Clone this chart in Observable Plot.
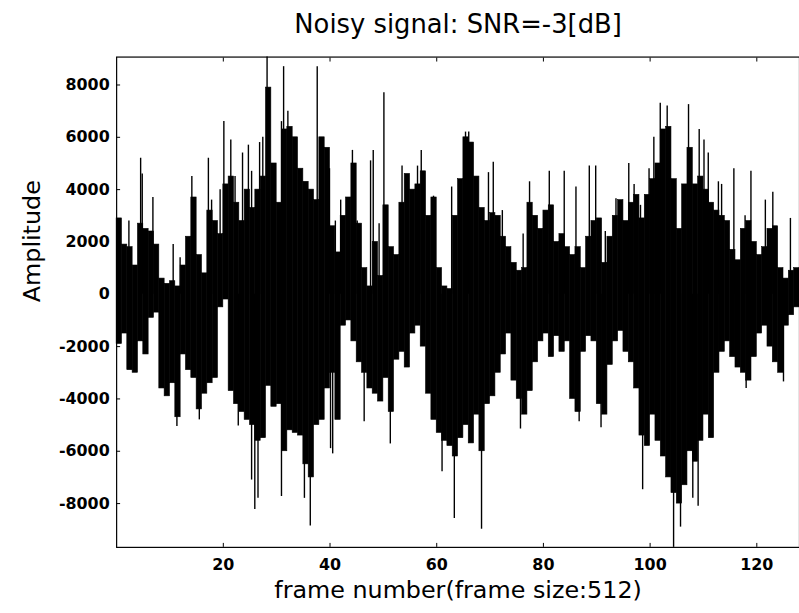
<!DOCTYPE html>
<html><head><meta charset="utf-8">
<script src="https://cdn.jsdelivr.net/npm/d3@7"></script>
<script src="https://cdn.jsdelivr.net/npm/@observablehq/plot@0.6"></script>
<style>html,body{margin:0;padding:0;background:#fff;overflow:hidden;width:799px;height:613px}</style>
</head><body><div id="chart"></div>
<script>
// Per-frame upper / lower envelope of the noisy signal (frames 0..127)
const upper = [2900,1900,1800,1100,2700,2500,2400,1900,600,400,
 500,300,1100,2200,3700,1500,800,3200,2800,2300,
 4200,4500,3500,2800,4000,3300,4000,4500,7900,5000,
 3500,6300,6400,6000,4800,4300,4000,3600,6000,5600,
 2600,1600,3000,3700,5000,2700,1000,300,2000,700,
 3400,1800,1500,3500,4600,4000,4200,4700,3000,3700,
 1000,300,200,3000,4400,6000,5800,4500,3300,2800,
 3100,3000,2200,1800,1200,900,1000,3500,3000,2500,
 3200,3400,2000,2300,1800,1500,1800,1000,2200,2800,
 2900,1200,2200,3000,3600,2800,3500,3800,2900,3800,
 4400,5000,6300,6400,4400,2500,4200,5600,4200,4500,
 4000,3500,3200,3000,2800,1700,1300,2500,2800,2000,
 1500,1800,2500,2600,1000,600,900,1000];
const lower = [-1900,-1500,-2900,-3000,-1800,-2300,-900,-700,-3600,-3900,
 -3400,-4700,-2300,-2900,-3200,-4400,-3800,-3400,-3200,-500,
 -200,-3700,-4200,-4500,-4800,-5000,-5600,-5500,-3500,-4300,
 -4200,-6000,-5200,-5300,-5400,-6500,-7000,-5000,-4800,-3600,
 -3000,-4800,-1200,-1000,-1800,-2600,-3000,-3600,-3800,-4100,
 -3200,-4500,-2500,-2200,-2800,-1500,-1200,-2000,-3800,-4800,
 -5300,-5600,-5800,-6200,-5500,-5000,-5700,-4600,-6000,-4200,
 -3900,-3000,-2300,-1500,-3300,-4000,-4600,-3700,-2600,-1800,
 -1500,-2400,-1600,-2200,-1800,-4000,-4500,-2200,-1600,-1800,
 -4200,-4600,-2700,-1800,-1400,-2200,-2600,-3600,-5400,-5800,
 -4600,-5600,-6200,-7000,-7600,-8000,-7300,-6000,-6400,-5600,
 -4600,-5500,-3000,-2200,-1800,-2400,-2800,-3000,-3300,-2400,
 -1500,-1200,-2000,-2600,-3000,-1200,-800,-500];
// Thin spikes beyond the envelope
const spikeFrames = [2.3,4.5,4.8,6.8,10.6,11.9,14.1,17.2,17.8,19.4,20.1,21.4,22.2,23.6,24.7,25.3,26.8,27.4,28.2,
 30.9,31.3,32.1,37.6,39.9,41.0,42.0,44.2,45.1,47.6,48.1,49.2,50.1,53.5,54.4,56.4,57.1,57.6,59.4,62.8,65.4,66.0,
 69.7,70.6,72.3,76.2,77.4,81.1,83.9,86.1,88.6,89.8,91.6,93.6,96.0,97.0,98.2,99.8,100.7,101.9,103.2,107.2,
 109.2,110.1,110.9,112.8,113.4,115.7,117.8,118.9,121.6,123.0,126.3];
const spikeValues = [2800,5200,4600,3700,1900,1400,4500,5200,3600,4000,6600,5900,4500,5400,5700,4700,5800,6000,9067,
 6600,8700,7000,8700,4800,2800,3600,5500,2800,5100,5500,2700,7700,4900,4300,4900,5500,4600,3750,4100,6200,6200,
 4650,5050,3200,2300,4300,4700,4700,4100,4900,4900,2400,3650,5000,4200,3400,4800,6000,7300,7200,7250,
 6300,5900,5400,4300,4200,4800,3000,4700,3600,3900,2900];
const lowSpikeFrames = [11.3,15.5,22.8,25.3,25.9,26.5,30.9,35.2,36.3,40.1,40.5,46.4,51.3,61.0,63.3,68.4,75.7,
 86.7,90.8,98.6,104.4,105.7,108.0,109.0,118.0,125.0];
const lowSpikeValues = [-5050,-4800,-5030,-7100,-8230,-7800,-7730,-7800,-8860,-5900,-6100,-4870,-5720,-6780,-8570,-8980,-5150,
 -4870,-5100,-7470,-9674,-8900,-7800,-8100,-3600,-3350];
const xTicks = [20,40,60,80,100,120];
const yTicks = [-8000,-6000,-4000,-2000,0,2000,4000,6000,8000];
const titleText = "Noisy signal: SNR=-3[dB]";
const xLabel = "frame number(frame size:512)";
const yLabel = "Amplitude";

const frames = upper.map((u, i) => ({f: i, hi: u, lo: lower[i]}));
const spikes = spikeFrames.map((f, i) => ({f, v: spikeValues[i]}))
  .concat(lowSpikeFrames.map((f, i) => ({f, v: lowSpikeValues[i]})));

const font = "DejaVu Sans";
const chart = Plot.plot({
  width: 805, height: 613,
  marginLeft: 117, marginRight: 0, marginTop: 57, marginBottom: 62,
  style: {fontFamily: font, background: "white", color: "black"},
  x: {domain: [0, 128]},
  y: {domain: [-9674, 9067]},
  marks: [
    Plot.rect(frames, {x1: "f", x2: d => d.f + 1, y1: "lo", y2: "hi", fill: "black", stroke: "black", strokeWidth: 0.6}),
    Plot.ruleX(spikes, {x: "f", y1: 0, y2: "v", stroke: "black", strokeWidth: 1.4}),
    Plot.frame({stroke: "black", strokeWidth: 1.2}),
    Plot.axisX(xTicks, {anchor: "bottom", tickSize: -4, tickPadding: 15, fontSize: 16, fontWeight: "bold", label: null, tickFormat: d => String(d)}),
    Plot.axisX(xTicks, {anchor: "top", tickSize: -4, tickFormat: () => "", label: null}),
    Plot.axisY(yTicks, {anchor: "left", tickSize: -4, tickPadding: 11, fontSize: 16, fontWeight: "bold", label: null, tickFormat: d => String(d)}),
    Plot.text([titleText], {frameAnchor: "top", dy: -24, lineAnchor: "bottom", fontSize: 26}),
    Plot.text([xLabel], {frameAnchor: "bottom", dy: 51, lineAnchor: "bottom", fontSize: 24}),
    Plot.text([yLabel], {frameAnchor: "left", dx: -85, rotate: -90, lineAnchor: "middle", fontSize: 24})
  ]
});
document.getElementById("chart").appendChild(chart);
</script>
</body></html>
